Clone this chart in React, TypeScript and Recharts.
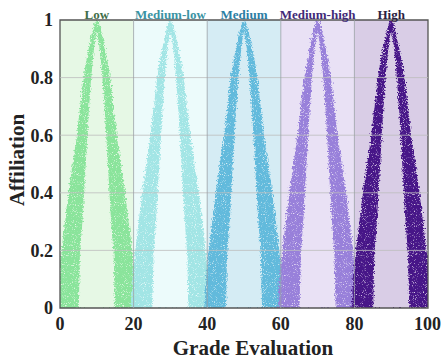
import React from "react";
import {
  Area,
  ComposedChart,
  ReferenceArea,
  ReferenceLine,
  XAxis,
  YAxis,
} from "recharts";

// grade classes, their bands on the x axis and where each triangle peaks
const bands = ["Low", "Medium-low", "Medium", "Medium-high", "High"];
const bandStarts = [0, 20, 40, 60, 80];
const bandEnds = [20, 40, 60, 80, 100];
const peaks = [10, 30, 50, 70, 90];

// shape of a point cloud: distance from the peak (grade units),
// the top of the cloud at that distance, and the bottom of the empty gap inside it
const legOffsets = [10.8, 10.2, 9.4, 7.6, 5.4, 4.9, 4.6, 3.8, 3.0, 2.2, 1.4, 0.6, 0];
const legUpper = [0, 0.12, 0.22, 0.41, 0.6, 0.66, 0.69, 0.78, 0.85, 0.9, 0.95, 0.99, 1];
const legLower = [0, 0, 0, 0, 0, 0, 0.18, 0.32, 0.5, 0.68, 0.82, 0.92, 0.96];

const xTicks = [0, 20, 40, 60, 80, 100];
const yTicks = [0, 0.2, 0.4, 0.6, 0.8, 1];
const yTickLabels = ["0", "0.2", "0.4", "0.6", "0.8", "1"];

const bandFill = ["#e6f8e5", "#ecfbfb", "#d5ecf4", "#e9e1f5", "#d9cde6"];
const cloudFill = ["#8ae49b", "#a2e5e5", "#62badc", "#9880da", "#461888"];
const titleColor = ["#3f6e49", "#3a93a3", "#2b7ea4", "#412a78", "#2a2140"];

const font = "'Liberation Serif', 'Times New Roman', serif";

// one row per outline point: top of its cloud (u#) and top of the gap inside it (g#)
const chartData = peaks
  .flatMap((peak, c) => {
    const row = (x: number, i: number) => ({ x, ["u" + c]: legUpper[i], ["g" + c]: legLower[i] });
    const left = legOffsets.map((d, i) => row(peak - d, i));
    const right = legOffsets.slice(0, -1).map((d, i) => row(peak + d, i));
    return [...left, ...right];
  })
  .sort((a, b) => a.x - b.x);

export default function App() {
  return (
    <div style={{ width: 441, height: 362 }}>
      <style>{`body{margin:0} .cloud .recharts-area-area{filter:url(#speckle)} .gap .recharts-area-area{filter:url(#fuzz)}`}</style>
      <ComposedChart
        width={441}
        height={362}
        data={chartData}
        margin={{ top: 20, right: 13, bottom: 0, left: 0 }}
      >
        <defs>
          <filter id="speckle" x="-15%" y="-5%" width="130%" height="110%">
            <feTurbulence type="fractalNoise" baseFrequency="0.6" numOctaves="2" seed="3" result="noise" />
            <feDisplacementMap in="SourceGraphic" in2="noise" scale="6" xChannelSelector="R" yChannelSelector="G" result="disp" />
            <feTurbulence type="fractalNoise" baseFrequency="1.1" numOctaves="1" seed="8" result="grain" />
            <feColorMatrix
              in="grain"
              type="matrix"
              values="0 0 0 0 0  0 0 0 0 0  0 0 0 0 0  5 0 0 0 -1.1"
              result="mask"
            />
            <feComposite in="disp" in2="mask" operator="in" />
          </filter>
          <filter id="fuzz" x="-15%" y="-5%" width="130%" height="110%">
            <feTurbulence type="fractalNoise" baseFrequency="0.7" numOctaves="2" seed="5" result="noise" />
            <feDisplacementMap in="SourceGraphic" in2="noise" scale="5" xChannelSelector="R" yChannelSelector="G" />
          </filter>
        </defs>
        <XAxis
          type="number"
          dataKey="x"
          domain={[0, 100]}
          ticks={xTicks}
          allowDataOverflow
          axisLine={false}
          tickLine={false}
          tickSize={4}
          tickMargin={5}
          height={54}
          tick={{ fontFamily: font, fontWeight: 700, fontSize: 18, fill: "#222" }}
          label={{
            value: "Grade Evaluation",
            position: "insideBottom",
            offset: 7,
            dx: 9,
            style: { fontFamily: font, fontWeight: 700, fontSize: 21, fill: "#222" },
          }}
        />
        <YAxis
          type="number"
          domain={[0, 1]}
          ticks={yTicks}
          allowDataOverflow
          width={60}
          axisLine={false}
          tickLine={false}
          tickSize={0}
          tickMargin={7}
          tickFormatter={(v: number) => yTickLabels[yTicks.indexOf(v)] ?? String(v)}
          tick={{ fontFamily: font, fontWeight: 700, fontSize: 18, fill: "#222" }}
          label={{
            value: "Affiliation",
            angle: -90,
            position: "insideLeft",
            offset: 17,
            dy: -4,
            style: { fontFamily: font, fontWeight: 700, fontSize: 21, fill: "#222", textAnchor: "middle" },
          }}
        />
        {bands.map((name, i) => (
          <ReferenceArea
            key={name}
            x1={bandStarts[i]}
            x2={bandEnds[i]}
            y1={0}
            y2={1}
            fill={bandFill[i]}
            fillOpacity={1}
            stroke="none"
            label={{
              value: name,
              position: "top",
              offset: 1,
              style: { fontFamily: font, fontWeight: 700, fontSize: 13, fill: titleColor[i] },
            }}
          />
        ))}
        {bands.map((name, i) => (
          <Area
            key={"u" + name}
            className="cloud"
            dataKey={"u" + i}
            type="linear"
            connectNulls
            fill={cloudFill[i]}
            fillOpacity={1}
            stroke="none"
            isAnimationActive={false}
          />
        ))}
        {bands.map((name, i) => (
          <Area
            key={"g" + name}
            className="gap"
            dataKey={"g" + i}
            type="linear"
            connectNulls
            fill={bandFill[i]}
            fillOpacity={1}
            stroke="none"
            isAnimationActive={false}
          />
        ))}
        {yTicks.slice(1, -1).map((v) => (
          <ReferenceLine key={"h" + v} y={v} stroke="#bdbdbd" strokeOpacity={0.8} strokeWidth={1} />
        ))}
        {xTicks.slice(1, -1).map((v) => (
          <ReferenceLine key={"v" + v} x={v} stroke="#9aa0a6" strokeOpacity={0.8} strokeWidth={1} />
        ))}
        <ReferenceArea x1={0} x2={100} y1={0} y2={1} fill="none" stroke="#555" strokeWidth={1.3} />
      </ComposedChart>
    </div>
  );
}
